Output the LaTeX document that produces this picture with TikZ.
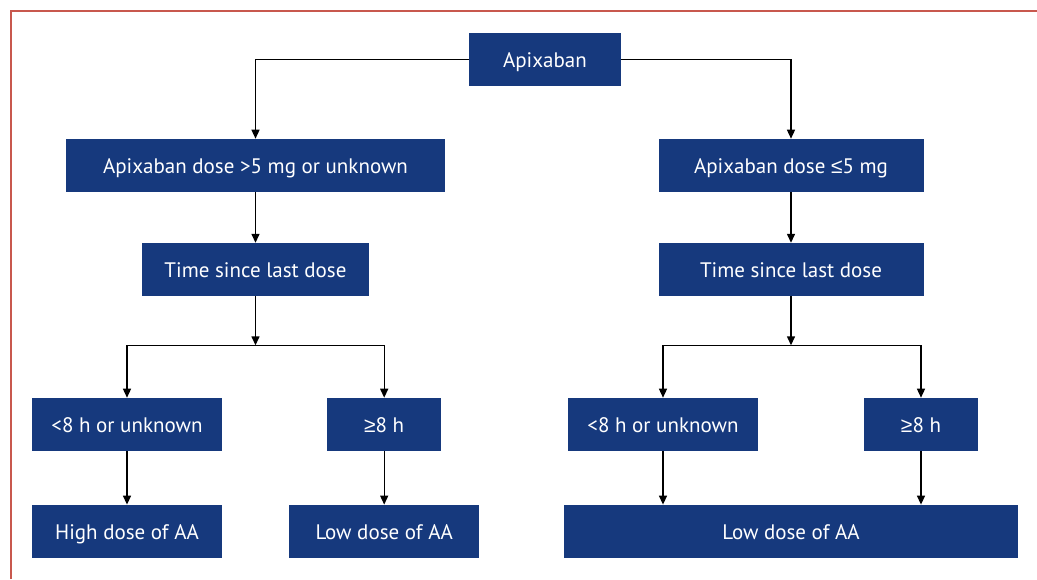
\documentclass[tikz,border=0pt]{standalone}
\usepackage{fontspec}
\setmainfont{PT Sans}
\newfontfamily\symf{Liberation Sans}
\usetikzlibrary{arrows.meta}
\definecolor{boxblue}{RGB}{22,57,125}
\definecolor{framered}{RGB}{200,88,78}
\newcommand{\geqsym}{{\symf ≥}}
\newcommand{\leqsym}{{\symf ≤}}
\begin{document}
\begin{tikzpicture}[x=1pt,y=-1pt,
  box/.style={fill=boxblue,text=white,inner sep=0pt,minimum height=53pt,text height=18.5pt,text depth=2pt,font=\fontsize{21}{24}\selectfont,anchor=center},
  arr/.style={draw=black,line width=1.4pt,-{Triangle[length=9pt,width=8pt]}}]
\useasboundingbox (0,0) rectangle (1037,579);
\draw[framered,line width=1.6pt] (11,579) -- (11,11) -- (1037,11);

\node[box,minimum width=152pt] (apx) at (544.9,59.5) {Apixaban};
\node[box,minimum width=379pt] (dL) at (255.5,165.4) {Apixaban dose >5 mg or unknown};
\node[box,minimum width=265pt] (dR) at (791,165.4) {Apixaban dose \leqsym5 mg};
\node[box,minimum width=227pt] (tL) at (255.5,269.5) {Time since last dose};
\node[box,minimum width=265pt] (tR) at (791,269.5) {Time since last dose};
\node[box,minimum width=190pt] (lL) at (127,424.4) {<8 h or unknown};
\node[box,minimum width=114pt] (gL) at (384.2,424.4) {\geqsym8 h};
\node[box,minimum width=190pt] (lR) at (663,424.4) {<8 h or unknown};
\node[box,minimum width=114pt] (gR) at (921,424.4) {\geqsym8 h};
\node[box,minimum width=190pt] (hL) at (127,531.3) {High dose of AA};
\node[box,minimum width=190pt] (lowL) at (384.2,531.3) {Low dose of AA};
\node[box,minimum width=454pt] (lowR) at (791,531.3) {Low dose of AA};

\coordinate (bL) at (255.5,345.3);
\coordinate (bR) at (791,345.3);

\draw[arr] (apx.west) -| (dL.north);
\draw[arr] (apx.east) -| (dR.north);
\draw[arr] (dL) -- (tL);
\draw[arr] (dR) -- (tR);
\draw[arr] (tL.south) -- (bL);
\draw[arr] (tR.south) -- (bR);
\draw[arr] (bL) -| (lL.north);
\draw[arr] (bL) -| (gL.north);
\draw[arr] (bR) -| (lR.north);
\draw[arr] (bR) -| (gR.north);
\draw[arr] (lL) -- (hL);
\draw[arr] (gL) -- (lowL);
\draw[arr] (lR.south) -- (lR.south |- lowR.north);
\draw[arr] (gR.south) -- (gR.south |- lowR.north);
\end{tikzpicture}
\end{document}
